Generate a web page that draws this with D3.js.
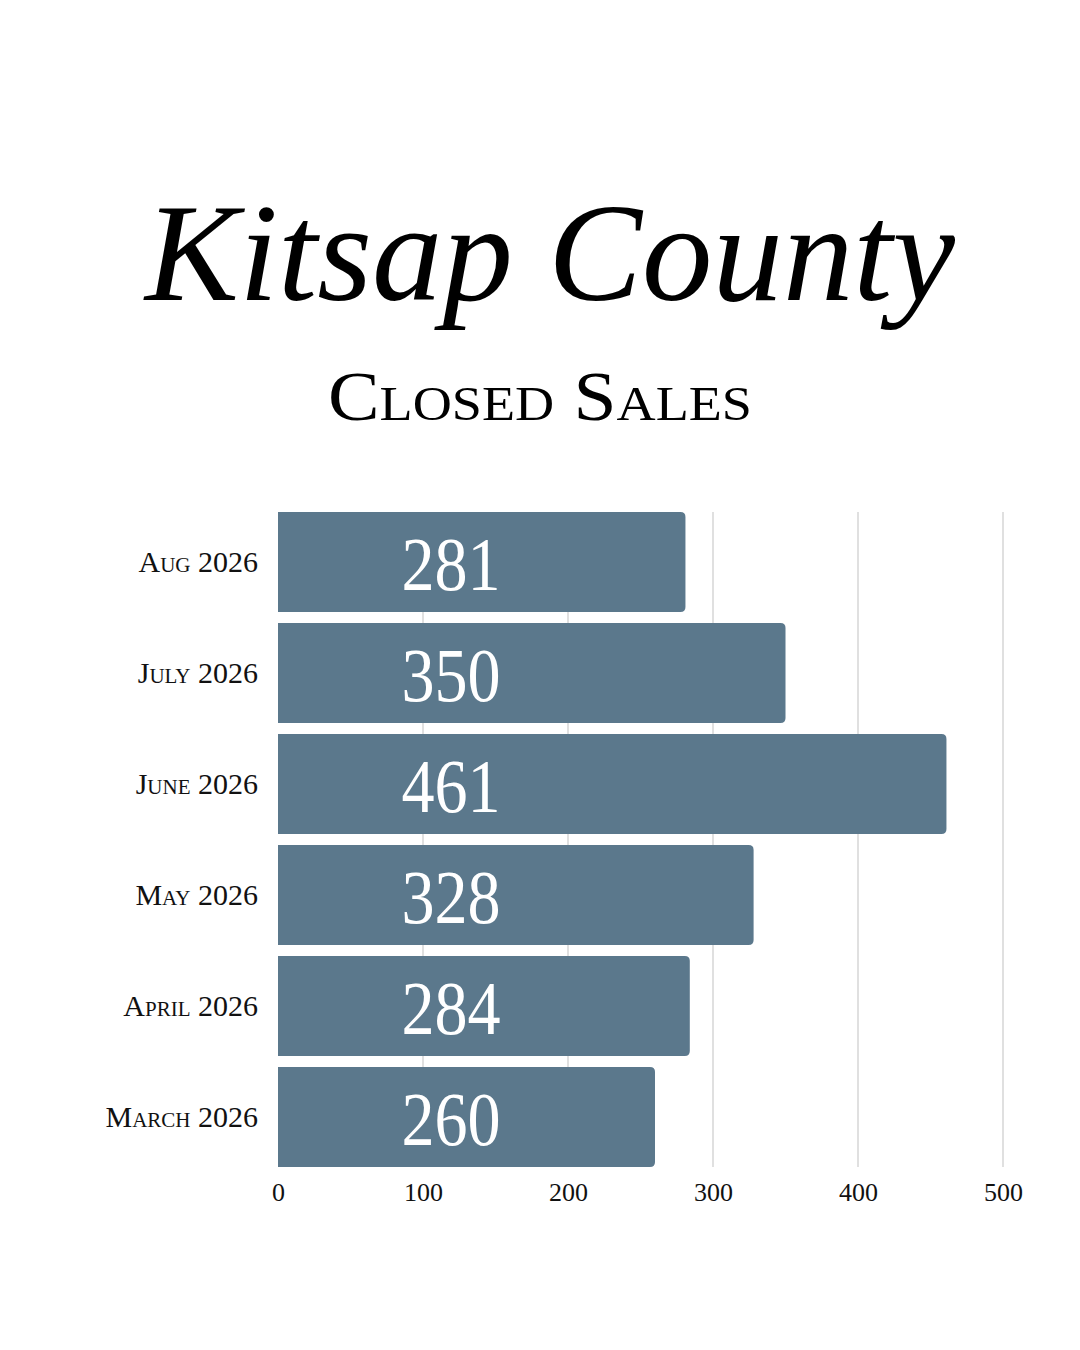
<!DOCTYPE html>
<html>
<head>
<meta charset="utf-8">
<script src="https://cdn.jsdelivr.net/npm/d3@7"></script>
<style>
  html, body { margin: 0; padding: 0; background: #fff; }
  svg { display: block; }
</style>
</head>
<body>
<div class="container"></div>
<script>
const WIDTH = 1080;
const HEIGHT = 1350;
const BAR_COLOR = "#5b788c";
const SERIF = "'Liberation Serif', 'DejaVu Serif', serif";

// data, top to bottom as drawn
var months = ["Aug 2026", "July 2026", "June 2026", "May 2026", "April 2026", "March 2026"];
var closedSales = [281, 350, 461, 328, 284, 260];
var ticks = [0, 100, 200, 300, 400, 500];

var svg = d3.select('.container').append('svg')
  .attr('width', WIDTH)
  .attr('height', HEIGHT);

// title, sized so it spans about 810px
var title = svg.append('text')
  .attr('x', 550).attr('y', 300)
  .attr('text-anchor', 'middle')
  .attr('font-family', SERIF)
  .attr('font-style', 'italic')
  .attr('font-size', 150)
  .attr('fill', '#000')
  .text('Kitsap County');
var tw = title.node().getComputedTextLength();
title.attr('font-size', 150 * 810 / tw);

svg.append('text')
  .attr('x', 540).attr('y', 420)
  .attr('text-anchor', 'middle')
  .attr('font-family', SERIF)
  .attr('font-size', 70)
  .attr('font-variant', 'small-caps')
  .attr('textLength', 424)
  .attr('lengthAdjust', 'spacingAndGlyphs')
  .attr('fill', '#000')
  .text('Closed Sales');

var x = d3.scaleLinear()
  .domain([0, 500])
  .range([278, 1003]);

var y = d3.scaleBand()
  .domain(months)
  .range([512, 1167])
  .paddingInner(0.1)
  .paddingOuter(0);

// gridlines
svg.append('g')
  .selectAll('line')
  .data(ticks.slice(1))
  .enter().append('line')
  .attr('x1', function(d){ return x(d); })
  .attr('x2', function(d){ return x(d); })
  .attr('y1', 512)
  .attr('y2', 1167)
  .attr('stroke', '#cccccc')
  .attr('stroke-width', 1.2);

// bars with rounded right end
var R = 5;
var barPath = function(d, i){
  var x0 = x(0), x1 = x(d), y0 = y(months[i]), h = y.bandwidth();
  return "M" + x0 + "," + y0 +
    "H" + (x1 - R) +
    "Q" + x1 + "," + y0 + " " + x1 + "," + (y0 + R) +
    "V" + (y0 + h - R) +
    "Q" + x1 + "," + (y0 + h) + " " + (x1 - R) + "," + (y0 + h) +
    "H" + x0 + "Z";
};

svg.append('g')
  .selectAll('path')
  .data(closedSales)
  .enter().append('path')
  .attr('d', barPath)
  .attr('fill', BAR_COLOR);

// value labels, a little condensed
svg.append('g')
  .selectAll('text')
  .data(closedSales)
  .enter().append('text')
  .attr('x', 451)
  .attr('y', function(d, i){ return y(months[i]) + y.bandwidth() / 2 + 28; })
  .attr('text-anchor', 'middle')
  .attr('font-family', SERIF)
  .attr('font-size', 76)
  .attr('fill', '#fff')
  .text(function(d){ return d; })
  .each(function(){
    var w = this.getComputedTextLength();
    d3.select(this).attr('textLength', w * 0.87).attr('lengthAdjust', 'spacingAndGlyphs');
  });

// category axis
var yAxis = d3.axisLeft(y).tickSize(0).tickPadding(20);
var gy = svg.append('g')
  .attr('transform', 'translate(278,0)')
  .call(yAxis);
gy.select('.domain').remove();
gy.selectAll('text')
  .attr('font-family', SERIF)
  .attr('font-size', 30)
  .attr('font-variant', 'small-caps')
  .attr('fill', '#111');

// value axis
var xAxis = d3.axisBottom(x).tickValues(ticks).tickSize(0).tickPadding(16);
var gx = svg.append('g')
  .attr('transform', 'translate(0,1167)')
  .call(xAxis);
gx.select('.domain').remove();
gx.selectAll('text')
  .attr('font-family', SERIF)
  .attr('font-size', 26)
  .attr('fill', '#111');
</script>
</body>
</html>
